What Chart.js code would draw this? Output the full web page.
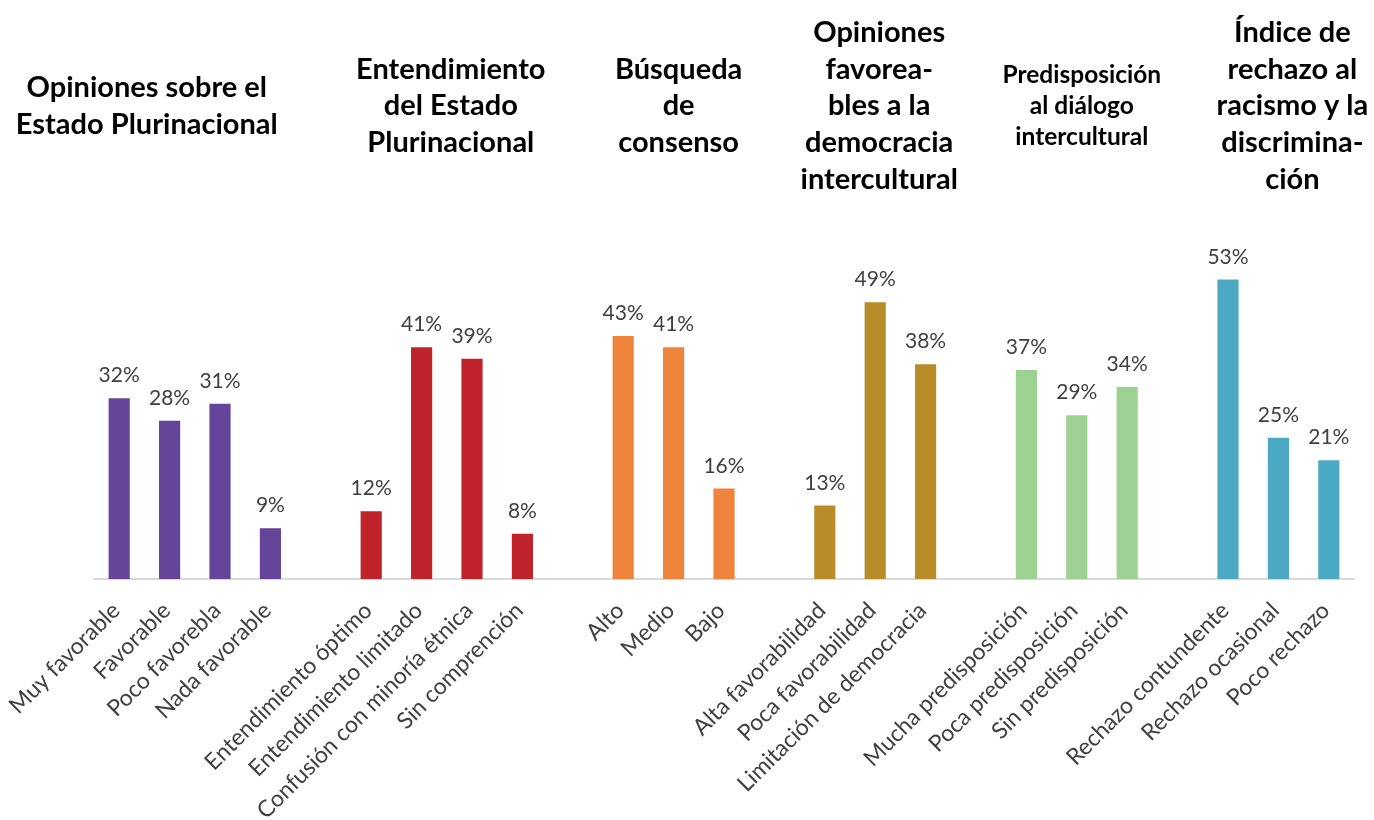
<!DOCTYPE html>
<html>
<head>
<meta charset="utf-8">
<script src="https://cdn.jsdelivr.net/npm/chart.js@4.4.0/dist/chart.umd.min.js"></script>
<style>
  html, body { margin: 0; padding: 0; background: #fff; }
</style>
</head>
<body>
<canvas id="grafico" width="1374" height="820"></canvas>
<script>
// datos por bloque
const titulos = [
  ['Opiniones sobre el', 'Estado Plurinacional'],
  ['Entendimiento', 'del Estado', 'Plurinacional'],
  ['Búsqueda', 'de', 'consenso'],
  ['Opiniones', 'favorea-', 'bles a la', 'democracia', 'intercultural'],
  ['Predisposición', 'al diálogo', 'intercultural'],
  ['Índice de', 'rechazo al', 'racismo y la', 'discrimina-', 'ción']
];
const catOpiniones = ['Muy favorable', 'Favorable', 'Poco favorebla', 'Nada favorable'];
const valOpiniones = [32, 28, 31, 9];
const catEntendimiento = ['Entendimiento óptimo', 'Entendimiento limitado', 'Confusión con minoría étnica', 'Sin comprención'];
const valEntendimiento = [12, 41, 39, 8];
const catConsenso = ['Alto', 'Medio', 'Bajo'];
const valConsenso = [43, 41, 16];
const catDemocracia = ['Alta favorabilidad', 'Poca favorabilidad', 'Limitación de democracia'];
const valDemocracia = [13, 49, 38];
const catDialogo = ['Mucha predisposición', 'Poca predisposición', 'Sin predisposición'];
const valDialogo = [37, 29, 34];
const catRechazo = ['Rechazo contundente', 'Rechazo ocasional', 'Poco rechazo'];
const valRechazo = [53, 25, 21];

const colores = ['#65459A', '#C1232A', '#F0843C', '#B98C2A', '#9CD192', '#4CA9C4'];
const bloques = [
  [catOpiniones, valOpiniones],
  [catEntendimiento, valEntendimiento],
  [catConsenso, valConsenso],
  [catDemocracia, valDemocracia],
  [catDialogo, valDialogo],
  [catRechazo, valRechazo]
];

// armar etiquetas con un hueco entre bloques
const labels = [], valores = [], fondo = [], rangos = [];
bloques.forEach(([cats, vals], g) => {
  if (g > 0) { labels.push(''); valores.push(null); fondo.push('transparent'); }
  const ini = labels.length;
  cats.forEach((c, i) => { labels.push(c); valores.push(vals[i]); fondo.push(colores[g]); });
  rangos.push([ini, labels.length - 1]);
});

const FUENTE = 'Lato, "Open Sans", sans-serif';

const etiquetasValor = {
  id: 'etiquetasValor',
  afterDatasetsDraw(chart) {
    const ctx = chart.ctx;
    const meta = chart.getDatasetMeta(0);
    ctx.save();
    ctx.font = '21px ' + FUENTE;
    ctx.fillStyle = '#404040';
    ctx.textAlign = 'center';
    ctx.textBaseline = 'alphabetic';
    meta.data.forEach((bar, i) => {
      if (valores[i] == null) return;
      ctx.fillText(valores[i] + '%', bar.x, bar.y - 16);
    });
    ctx.restore();
  }
};

const desplazamiento = [-48, 4, 5, 4, 5, 14];
const titulosBloque = {
  id: 'titulosBloque',
  afterDraw(chart) {
    const ctx = chart.ctx;
    const xs = chart.scales.x;
    ctx.save();
    ctx.fillStyle = '#000';
    ctx.textAlign = 'center';
    ctx.textBaseline = 'middle';
    titulos.forEach((lineas, g) => {
      const chico = g === 4;
      const alto = chico ? 31 : 36.7;
      ctx.font = 'bold ' + (chico ? 24.5 : 29) + 'px ' + FUENTE;
      const cx = (xs.getPixelForValue(rangos[g][0]) + xs.getPixelForValue(rangos[g][1])) / 2 + desplazamiento[g];
      const y0 = 106 - (lineas.length - 1) * alto / 2;
      lineas.forEach((t, k) => ctx.fillText(t, cx, y0 + k * alto));
    });
    ctx.restore();
  }
};

new Chart(document.getElementById('grafico'), {
  type: 'bar',
  data: {
    labels: labels,
    datasets: [{
      data: valores,
      backgroundColor: fondo,
      categoryPercentage: 1,
      barPercentage: 0.42
    }]
  },
  options: {
    responsive: false,
    animation: false,
    layout: { padding: { top: 240, left: 94, right: 20, bottom: 0 } },
    plugins: { legend: { display: false }, tooltip: { enabled: false } },
    scales: {
      y: { display: false, min: 0, max: 60 },
      x: {
        grid: { display: false, drawTicks: false },
        border: { display: true, color: '#d9d9d9', width: 2 },
        ticks: {
          autoSkip: false,
          minRotation: 45,
          maxRotation: 45,
          padding: 18,
          labelOffset: -3,
          color: '#404040',
          font: { family: FUENTE, size: 23 }
        },
        afterFit(scale) {
          scale.height = 241;
          scale.paddingLeft = 0;
          scale.paddingRight = 0;
        }
      }
    }
  },
  plugins: [etiquetasValor, titulosBloque]
});
</script>
</body>
</html>
